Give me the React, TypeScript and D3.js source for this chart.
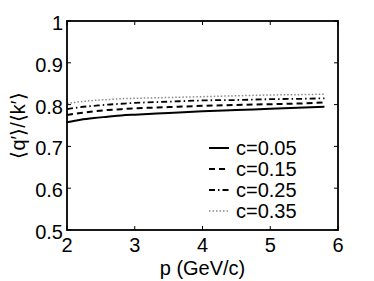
import * as React from 'react';
import * as d3 from 'd3';

const pValues = [2, 2.2, 2.4, 2.6, 2.8, 3, 3.5, 4, 4.5, 5, 5.5, 5.8];
const c005 = [0.758, 0.764, 0.768, 0.771, 0.774, 0.776, 0.780, 0.784, 0.787, 0.790, 0.793, 0.795];
const c015 = [0.775, 0.780, 0.784, 0.787, 0.789, 0.791, 0.794, 0.797, 0.799, 0.801, 0.803, 0.805];
const c025 = [0.789, 0.794, 0.797, 0.800, 0.802, 0.804, 0.807, 0.810, 0.811, 0.813, 0.814, 0.815];
const c035 = [0.803, 0.807, 0.810, 0.812, 0.814, 0.815, 0.817, 0.819, 0.821, 0.823, 0.824, 0.825];
const seriesLabels = ['c=0.05', 'c=0.15', 'c=0.25', 'c=0.35'];
const xTicks = [2, 3, 4, 5, 6];
const yTicks = [0.5, 0.6, 0.7, 0.8, 0.9, 1];

const styles = [
  { dash: '', color: '#000', width: 2 },
  { dash: '6,4', color: '#000', width: 2 },
  { dash: '6,3,1.5,3', color: '#000', width: 1.8 },
  { dash: '1.5,2', color: '#888', width: 1.5 },
];

export default function App() {
  const ref = React.useRef<SVGSVGElement | null>(null);

  React.useEffect(() => {
    if (!ref.current) return;
    const svg = d3.select(ref.current);
    svg.selectAll('*').remove();
    const left = 67, right = 338, top = 21, bottom = 230;
    const font = 'Liberation Sans, Arial, Helvetica, sans-serif';
    const fs = 20;

    const x = d3.scaleLinear().domain([2, 6]).range([left, right]);
    const y = d3.scaleLinear().domain([0.5, 1]).range([bottom, top]);

    const all = [c005, c015, c025, c035];
    all.forEach((vals, i) => {
      const line = d3.line<number>()
        .x((_, j) => x(pValues[j]))
        .y(d => y(d))
        .curve(d3.curveMonotoneX);
      svg.append('path')
        .attr('fill', 'none')
        .attr('stroke', styles[i].color)
        .attr('stroke-width', styles[i].width)
        .attr('stroke-dasharray', styles[i].dash)
        .attr('d', line(vals) || '');
    });

    // box
    svg.append('rect')
      .attr('x', left).attr('y', top)
      .attr('width', right - left).attr('height', bottom - top)
      .attr('fill', 'none').attr('stroke', '#000').attr('stroke-width', 1.8);

    const tl = 4;
    xTicks.forEach(t => {
      svg.append('line').attr('x1', x(t)).attr('x2', x(t)).attr('y1', bottom).attr('y2', bottom - tl).attr('stroke', '#000');
      svg.append('line').attr('x1', x(t)).attr('x2', x(t)).attr('y1', top).attr('y2', top + tl).attr('stroke', '#000');
      svg.append('text').attr('x', x(t)).attr('y', bottom + 22)
        .attr('text-anchor', 'middle').attr('font-family', font).attr('font-size', fs).text(String(t));
    });
    yTicks.forEach(t => {
      svg.append('line').attr('x1', left).attr('x2', left + tl).attr('y1', y(t)).attr('y2', y(t)).attr('stroke', '#000');
      svg.append('line').attr('x1', right).attr('x2', right - tl).attr('y1', y(t)).attr('y2', y(t)).attr('stroke', '#000');
      svg.append('text').attr('x', left - 4).attr('y', y(t) + 9)
        .attr('text-anchor', 'end').attr('font-family', font).attr('font-size', fs)
        .text(t === 1 ? '1' : d3.format('.1f')(t));
    });

    svg.append('text').attr('x', (left + right) / 2).attr('y', 275)
      .attr('text-anchor', 'middle').attr('font-family', font).attr('font-size', fs).text('p (GeV/c)');
    svg.append('text')
      .attr('transform', `translate(25,${(top + bottom) / 2}) rotate(-90)`)
      .attr('text-anchor', 'middle').attr('font-family', font).attr('font-size', fs)
      .text('⟨q′⟩/⟨k′⟩');

    // legend
    seriesLabels.forEach((lab, i) => {
      const ly = 148 + i * 21;
      svg.append('line').attr('x1', 209).attr('x2', 229).attr('y1', ly).attr('y2', ly)
        .attr('stroke', styles[i].color).attr('stroke-width', styles[i].width)
        .attr('stroke-dasharray', styles[i].dash);
      svg.append('text').attr('x', 236).attr('y', ly + 7)
        .attr('font-family', font).attr('font-size', fs).text(lab);
    });
  }, []);

  return (
    <svg ref={ref} width={374} height={281} viewBox="0 0 374 281"
      style={{ position: 'absolute', left: 0, top: 0, background: '#fff' }} />
  );
}
